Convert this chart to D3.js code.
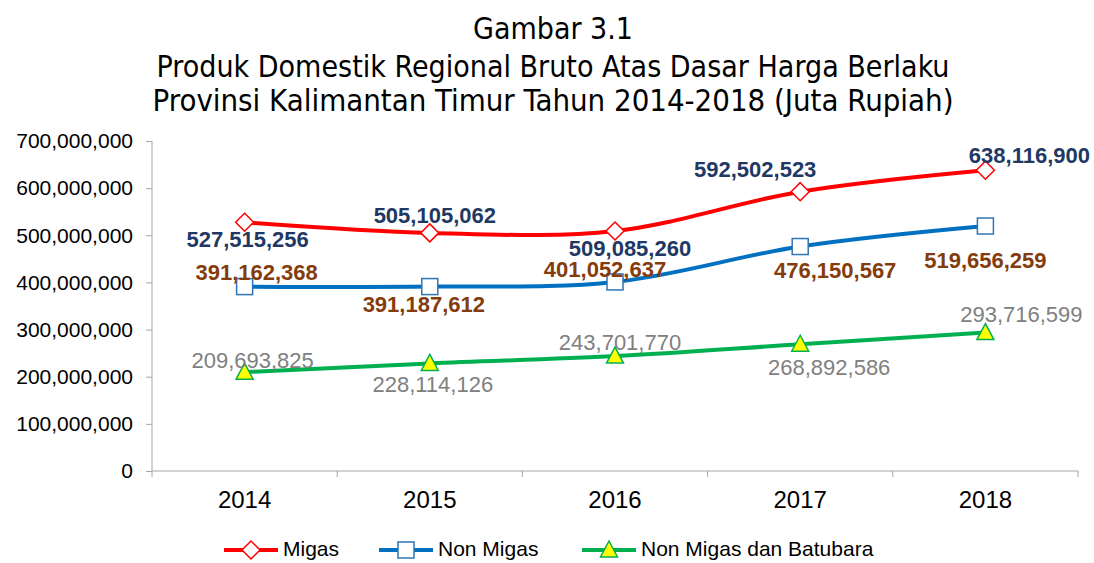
<!DOCTYPE html>
<html>
<head>
<meta charset="utf-8">
<title>Gambar 3.1</title>
<script src="https://d3js.org/d3.v7.min.js"></script>
<style>
  body { margin: 0; background: #fff; }
  svg { display: block; }
  .title { font-family: 'Liberation Sans Narrow', 'DejaVu Sans Condensed', 'DejaVu Sans', sans-serif; font-stretch: condensed; font-size: 30px; fill: #000; }
  .axis text { font-family: 'Liberation Sans', Arial, sans-serif; fill: #000; }
  .axis path, .axis line { stroke: #a6a6a6; }
</style>
</head>
<body>
<div id="chart"></div>
<script>
// data
var years = ["2014", "2015", "2016", "2017", "2018"];
var migas = [527515256, 505105062, 509085260, 592502523, 638116900];
var nonMigas = [391162368, 391187612, 401052637, 476150567, 519656259];
var nonMigasBatubara = [209693825, 228114126, 243701770, 268892586, 293716599];
var yTicks = [0, 100000000, 200000000, 300000000, 400000000, 500000000, 600000000, 700000000];
var seriesNames = ["Migas", "Non Migas", "Non Migas dan Batubara"];
var titleLines = ["Gambar 3.1",
    "Produk Domestik Regional Bruto Atas Dasar Harga Berlaku",
    "Provinsi Kalimantan Timur Tahun 2014-2018 (Juta Rupiah)"];

// where each data label sits relative to its marker (px)
var labelOffsets = [
    [[3, 17], [5, -18], [15, 17], [-45, -22], [44, -15]],
    [[12, -14], [-6, 18], [-10, -13], [35, 24], [0, 34]],
    [[8, -12], [3, 21], [5, -14], [29, 23], [36, -18]]
];

var W = 1094, H = 563;
var margin = {top: 141, left: 152, right: 16, bottom: 92};
var width = W - margin.left - margin.right,
    height = H - margin.top - margin.bottom;

var svg = d3.select("#chart").append("svg")
    .attr("width", W).attr("height", H);

// title
svg.selectAll(".title").data(titleLines).enter().append("text")
    .attr("class", "title")
    .attr("x", 553)
    .attr("y", function(d, i) { return [39, 77, 111][i]; })
    .attr("text-anchor", "middle")
    .attr("textLength", function(d, i) { return [160, 793, 801][i]; })
    .attr("lengthAdjust", "spacingAndGlyphs")
    .text(function(d) { return d; });

var g = svg.append("g")
    .attr("transform", "translate(" + margin.left + "," + margin.top + ")");

var x = d3.scaleBand().domain(years).range([0, width]).paddingInner(0).paddingOuter(0);
var y = d3.scaleLinear().domain([0, 700000000]).range([height, 0]);
var cx = function(d) { return x(d) + x.bandwidth() / 2; };

// y axis
var yAxis = g.append("g").attr("class", "axis")
    .call(d3.axisLeft(y).tickValues(yTicks).tickSize(6).tickPadding(13)
        .tickFormat(d3.format(",")));
yAxis.select(".domain").attr("d", "M0," + height + "V0");
yAxis.selectAll("text").style("font-size", "21px");

// x axis: boundary ticks + centred labels
var xAxis = g.append("g").attr("class", "axis")
    .attr("transform", "translate(0," + height + ")");
xAxis.append("line").attr("x1", 0).attr("x2", width).attr("y1", 0).attr("y2", 0);
var bounds = years.map(function(d) { return x(d); }).concat([width]);
xAxis.selectAll(".bt").data(bounds).enter().append("line")
    .attr("x1", function(d) { return d; }).attr("x2", function(d) { return d; })
    .attr("y1", 0).attr("y2", 6);
xAxis.selectAll(".xl").data(years).enter().append("text")
    .attr("x", cx).attr("y", 37)
    .attr("text-anchor", "middle")
    .style("font-size", "24px")
    .text(function(d) { return d; });

var series = [
    {name: seriesNames[0], values: migas, color: "#ff0000", marker: "diamond", labelColor: "#1f3864", weight: "bold"},
    {name: seriesNames[1], values: nonMigas, color: "#0070c0", marker: "square", labelColor: "#843c0c", weight: "bold"},
    {name: seriesNames[2], values: nonMigasBatubara, color: "#00b050", marker: "triangle", labelColor: "#808080", weight: "normal"}
];

var line = d3.line()
    .x(function(d, i) { return cx(years[i]); })
    .y(function(d) { return y(d); })
    .curve(d3.curveCardinal.tension(0));

function drawMarker(sel, type, color) {
    if (type === "diamond") {
        sel.append("path").attr("d", "M0,-9L9,0L0,9L-9,0Z")
            .attr("fill", "#fff").attr("stroke", color).attr("stroke-width", 1.5);
    } else if (type === "square") {
        sel.append("rect").attr("x", -8).attr("y", -8).attr("width", 16).attr("height", 16)
            .attr("fill", "#fff").attr("stroke", "#2e75b6").attr("stroke-width", 1.5);
    } else {
        sel.append("path").attr("d", "M0,-9L8.5,7L-8.5,7Z")
            .attr("fill", "#ffff00").attr("stroke", color).attr("stroke-width", 1.5);
    }
}

series.forEach(function(s, si) {
    g.append("path").datum(s.values)
        .attr("fill", "none").attr("stroke", s.color).attr("stroke-width", 4)
        .attr("d", line);
    s.values.forEach(function(v, i) {
        var m = g.append("g").attr("transform", "translate(" + cx(years[i]) + "," + y(v) + ")");
        drawMarker(m, s.marker, s.color);
    });
});

// data labels on top
series.forEach(function(s, si) {
    g.selectAll(".lab" + si).data(s.values).enter().append("text")
        .attr("x", function(d, i) { return cx(years[i]) + labelOffsets[si][i][0]; })
        .attr("y", function(d, i) { return y(d) + labelOffsets[si][i][1]; })
        .attr("dy", "0.35em")
        .attr("text-anchor", "middle")
        .style("font-family", "'Liberation Sans', Arial, sans-serif")
        .style("font-size", "22px")
        .style("font-weight", s.weight)
        .style("fill", s.labelColor)
        .text(function(d) { return d3.format(",")(d); });
});

// legend
var legendX = [224, 379, 582];
var legend = svg.append("g").attr("transform", "translate(0,550)");
series.forEach(function(s, i) {
    var lg = legend.append("g").attr("transform", "translate(" + legendX[i] + ",0)");
    lg.append("line").attr("x1", 0).attr("x2", 54).attr("y1", 0).attr("y2", 0)
        .attr("stroke", s.color).attr("stroke-width", 4);
    var m = lg.append("g").attr("transform", "translate(27,0)");
    drawMarker(m, s.marker, s.color);
    lg.append("text").attr("x", 59).attr("y", 6)
        .style("font-family", "'Liberation Sans', Arial, sans-serif")
        .style("font-size", "21px")
        .text(s.name);
});
</script>
</body>
</html>
